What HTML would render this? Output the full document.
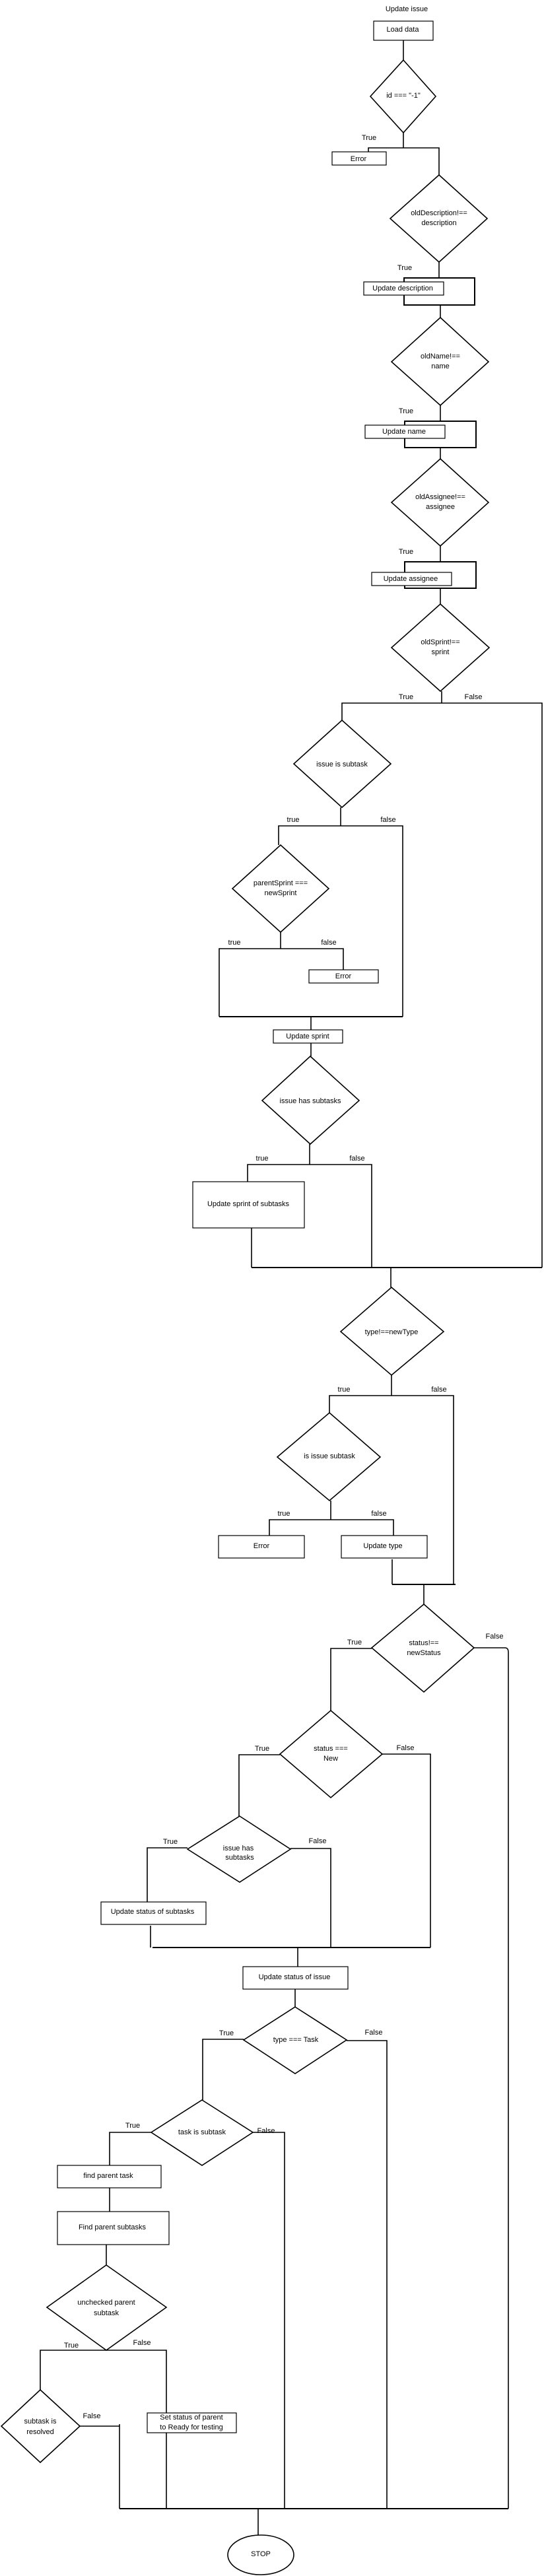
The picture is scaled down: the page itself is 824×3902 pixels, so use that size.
<!DOCTYPE html>
<html><head><meta charset="utf-8"><style>
html,body{margin:0;padding:0;background:#fff;}
svg{display:block;}
text{font-family:"Liberation Sans",Arial,sans-serif;font-size:11px;fill:#000;}
</style></head><body>
<svg width="824" height="3902" viewBox="0 0 824 3902" xmlns="http://www.w3.org/2000/svg">
<g fill="none" stroke="#000" stroke-width="1.6">
<rect x="566" y="32" width="90" height="29" stroke-width="1.2"/>
<line x1="611" y1="61" x2="611" y2="91"/>
<polygon points="611,91 660,146 611,201 561,146"/>
<polyline points="611,201 611,224"/>
<polyline points="558,230 558,224 665,224 665,265"/>
<rect x="503" y="230" width="82" height="20" stroke-width="1.2"/>
<polygon points="665,265 738,331 665,397 591,331"/>
<line x1="665" y1="397" x2="665" y2="421"/>
<rect x="612" y="421" width="107" height="41" stroke-width="2"/>
<rect x="551" y="427" width="121" height="20" stroke-width="1.2" fill="#fff"/>
<line x1="667" y1="462" x2="667" y2="481"/>
<polygon points="667,481 740,548 667,614 593,548"/>
<line x1="667" y1="614" x2="667" y2="638"/>
<rect x="613" y="638" width="108" height="40" stroke-width="2"/>
<rect x="553" y="644" width="121" height="20" stroke-width="1.2" fill="#fff"/>
<line x1="667" y1="678" x2="667" y2="695"/>
<polygon points="667,695 740,761 667,827 593,761"/>
<line x1="667" y1="827" x2="667" y2="851"/>
<rect x="613" y="851" width="108" height="40" stroke-width="2"/>
<rect x="563" y="867" width="121" height="20" stroke-width="1.2" fill="#fff"/>
<line x1="667" y1="891" x2="667" y2="915"/>
<polygon points="667,915 741,981 667,1047 593,981"/>
<line x1="669" y1="1047" x2="669" y2="1065"/>
<polyline points="518,1091 518,1065 821,1065 821,1920"/>
<polygon points="518,1091 592,1157 518,1223 445,1157"/>
<line x1="516" y1="1223" x2="516" y2="1251"/>
<polyline points="422,1280 422,1251 610,1251 610,1540"/>
<polygon points="425,1280 498,1346 425,1412 352,1346"/>
<line x1="425" y1="1412" x2="425" y2="1437"/>
<polyline points="332,1540 332,1437 520,1437 520,1469"/>
<rect x="468" y="1469" width="105" height="20" stroke-width="1.2"/>
<line x1="332" y1="1540" x2="610" y2="1540" stroke-width="2"/>
<line x1="471" y1="1540" x2="471" y2="1560"/>
<rect x="414" y="1560" width="105" height="20" stroke-width="1.2"/>
<line x1="471" y1="1580" x2="471" y2="1600"/>
<polygon points="470,1600 544,1667 470,1733 397,1667"/>
<line x1="469" y1="1733" x2="469" y2="1764"/>
<polyline points="375,1790 375,1764 563,1764 563,1920"/>
<rect x="292" y="1790" width="169" height="70" stroke-width="1.2"/>
<line x1="381" y1="1860" x2="381" y2="1920"/>
<line x1="381" y1="1920" x2="821" y2="1920" stroke-width="2"/>
<line x1="592" y1="1920" x2="592" y2="1950"/>
<polygon points="593,1950 672,2017 593,2083 516,2017"/>
<line x1="593" y1="2083" x2="593" y2="2114"/>
<polyline points="499,2140 499,2114 687,2114 687,2400"/>
<polygon points="499,2140 576,2207 499,2273 420,2207"/>
<line x1="501" y1="2273" x2="501" y2="2302"/>
<polyline points="408,2326 408,2302 596,2302 596,2326"/>
<rect x="331" y="2326" width="130" height="34" stroke-width="1.2"/>
<rect x="517" y="2326" width="130" height="34" stroke-width="1.2"/>
<line x1="594" y1="2362" x2="594" y2="2400"/>
<line x1="594" y1="2400" x2="690" y2="2400" stroke-width="2"/>
<line x1="642" y1="2400" x2="642" y2="2430"/>
<polygon points="642,2430 718,2496 642,2563 563,2496"/>
<polyline points="563,2497 501,2497 501,2591"/>
<path d="M718,2496 H765 Q770,2496 770,2503 V3800"/>
<polygon points="501,2591 579,2657 501,2723 424,2657"/>
<polyline points="424,2658 362,2658 362,2751"/>
<polyline points="579,2657 652,2657 652,2950"/>
<polygon points="363,2751 440,2801 363,2851 284,2801"/>
<polyline points="284,2799 223,2799 223,2881"/>
<rect x="153" y="2881" width="159" height="34" stroke-width="1.2"/>
<line x1="228" y1="2917" x2="228" y2="2950"/>
<polyline points="440,2800 501,2800 501,2950"/>
<line x1="231" y1="2950" x2="652" y2="2950" stroke-width="2"/>
<line x1="451" y1="2950" x2="451" y2="2979"/>
<rect x="368" y="2979" width="159" height="34" stroke-width="1.2"/>
<line x1="447" y1="3013" x2="447" y2="3040"/>
<polygon points="447,3040 525,3090 447,3141 369,3090"/>
<polyline points="369,3089 307,3089 307,3181"/>
<polyline points="525,3091 586,3091 586,3800"/>
<polygon points="306,3181 383,3230 306,3280 229,3230"/>
<polyline points="229,3230 166,3230 166,3280"/>
<polyline points="383,3230 431,3230 431,3800"/>
<rect x="87" y="3280" width="157" height="34" stroke-width="1.2"/>
<line x1="166" y1="3314" x2="166" y2="3350"/>
<rect x="87" y="3350" width="169" height="50" stroke-width="1.2"/>
<line x1="161" y1="3400" x2="161" y2="3431"/>
<polygon points="161,3431 252,3495 161,3560 71,3495"/>
<polyline points="61,3620 61,3560 252,3560 252,3800"/>
<polygon points="61,3620 121,3675 61,3730 2,3675"/>
<polyline points="121,3675 181,3675"/>
<line x1="181" y1="3672" x2="181" y2="3800"/>
<rect x="223" y="3655" width="135" height="30" stroke-width="1.2" fill="#fff"/>
<line x1="181" y1="3800" x2="770" y2="3800" stroke-width="2"/>
<line x1="391" y1="3800" x2="391" y2="3840"/>
<ellipse cx="395" cy="3870" rx="50" ry="30"/>
</g>
<g text-anchor="middle">
<text x="616" y="17">Update issue</text>
<text x="610" y="48">Load data</text>
<text x="611" y="148">id === "-1"</text>
<text x="559" y="212">True</text>
<text x="543" y="244">Error</text>
<text x="665" y="326">oldDescription!==</text>
<text x="665" y="341">description</text>
<text x="613" y="409">True</text>
<text x="610" y="440">Update description</text>
<text x="667" y="543">oldName!==</text>
<text x="667" y="558">name</text>
<text x="615" y="626">True</text>
<text x="612" y="657">Update name</text>
<text x="667" y="756">oldAssignee!==</text>
<text x="667" y="771">assignee</text>
<text x="615" y="839">True</text>
<text x="622" y="880">Update assignee</text>
<text x="667" y="976">oldSprint!==</text>
<text x="667" y="991">sprint</text>
<text x="615" y="1059">True</text>
<text x="717" y="1059">False</text>
<text x="518" y="1161">issue is subtask</text>
<text x="444" y="1245">true</text>
<text x="588" y="1245">false</text>
<text x="425" y="1341">parentSprint ===</text>
<text x="425" y="1356">newSprint</text>
<text x="355" y="1431">true</text>
<text x="498" y="1431">false</text>
<text x="520" y="1482">Error</text>
<text x="466" y="1573">Update sprint</text>
<text x="470" y="1671">issue has subtasks</text>
<text x="397" y="1758">true</text>
<text x="541" y="1758">false</text>
<text x="376" y="1827">Update sprint of subtasks</text>
<text x="593" y="2021">type!==newType</text>
<text x="521" y="2108">true</text>
<text x="665" y="2108">false</text>
<text x="499" y="2209">is issue subtask</text>
<text x="430" y="2296">true</text>
<text x="574" y="2296">false</text>
<text x="396" y="2345">Error</text>
<text x="580" y="2345">Update type</text>
<text x="642" y="2492">status!==</text>
<text x="642" y="2507">newStatus</text>
<text x="537" y="2491">True</text>
<text x="749" y="2482">False</text>
<text x="501" y="2652">status ===</text>
<text x="501" y="2667">New</text>
<text x="397" y="2652">True</text>
<text x="614" y="2651">False</text>
<text x="361" y="2803">issue has</text>
<text x="363" y="2817">subtasks</text>
<text x="258" y="2793">True</text>
<text x="481" y="2792">False</text>
<text x="231" y="2899">Update status of subtasks</text>
<text x="446" y="2998">Update status of issue</text>
<text x="448" y="3093">type === Task</text>
<text x="343" y="3083">True</text>
<text x="566" y="3082">False</text>
<text x="306" y="3233">task is subtask</text>
<text x="201" y="3223">True</text>
<text x="403" y="3231">False</text>
<text x="164" y="3299">find parent task</text>
<text x="170" y="3377">Find parent subtasks</text>
<text x="161" y="3491">unchecked parent</text>
<text x="161" y="3507">subtask</text>
<text x="108" y="3556">True</text>
<text x="215" y="3552">False</text>
<text x="61" y="3671">subtask is</text>
<text x="61" y="3687">resolved</text>
<text x="139" y="3663">False</text>
<text x="290" y="3665">Set status of parent</text>
<text x="290" y="3680">to Ready for testing</text>
<text x="395" y="3872">STOP</text>
</g>
</svg>
</body></html>
